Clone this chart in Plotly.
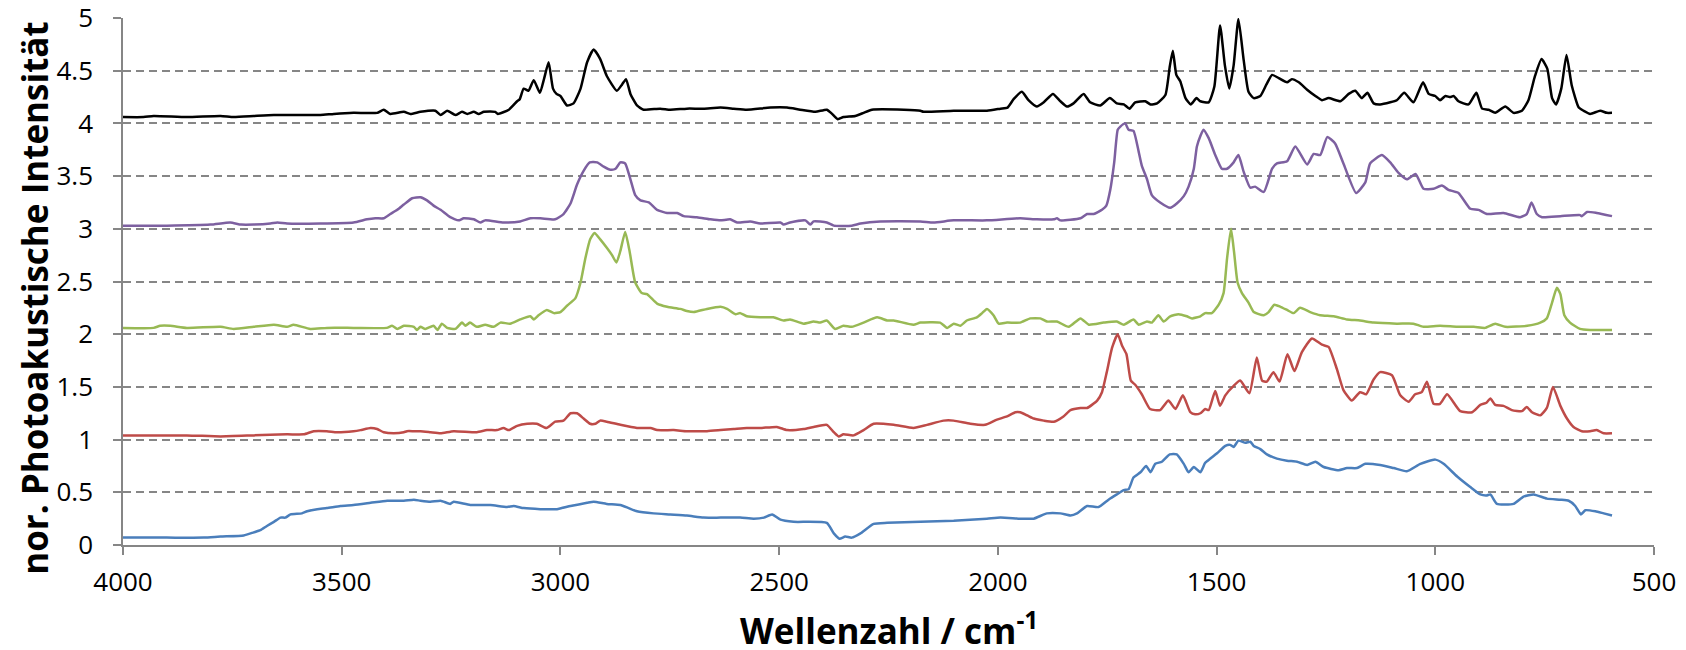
import plotly.graph_objects as go

# ---- data (wavenumber in cm^-1, normalized photoacoustic intensity with offsets) ----
wn_black = [4000,3953,3930,3854,3777,3747,3701,3655,3610,3549,3518,3473,3419,3404,3389,3358,3343,3320,3286,3274,3259,3240,3225,3213,3198,3187,3175,3149,3143,3118,3099,3093,3084,3073,3061,3047,3037,3027,3017,3009,3000,2985,2970,2954,2939,2924,2909,2894,2871,2859,2850,2840,2825,2810,2772,2749,2711,2673,2634,2604,2574,2520,2482,2452,2417,2391,2379,2366,2353,2326,2307,2288,2215,2177,2170,2101,2025,1994,1978,1964,1945,1930,1911,1895,1874,1857,1842,1827,1804,1789,1766,1744,1728,1712,1699,1686,1663,1651,1636,1617,1607,1600,1592,1583,1571,1559,1546,1537,1518,1505,1492,1481,1471,1461,1450,1438,1427,1415,1400,1386,1373,1358,1339,1328,1312,1293,1274,1259,1244,1217,1198,1183,1168,1155,1141,1126,1103,1088,1071,1050,1028,1015,1000,989,977,966,958,947,924,906,893,878,863,840,821,802,787,772,757,744,733,724,712,700,688,672,661,646,623,608,596]
int_black = [4.06,4.06,4.07,4.06,4.07,4.06,4.07,4.08,4.08,4.08,4.09,4.10,4.10,4.13,4.09,4.11,4.09,4.11,4.12,4.08,4.12,4.08,4.11,4.09,4.11,4.09,4.11,4.11,4.09,4.13,4.21,4.23,4.33,4.31,4.41,4.29,4.43,4.58,4.33,4.28,4.26,4.17,4.19,4.33,4.58,4.70,4.61,4.45,4.31,4.37,4.42,4.28,4.17,4.13,4.14,4.13,4.14,4.14,4.15,4.14,4.13,4.15,4.15,4.13,4.11,4.13,4.09,4.04,4.06,4.07,4.10,4.13,4.13,4.12,4.11,4.12,4.12,4.14,4.15,4.23,4.30,4.22,4.16,4.20,4.28,4.21,4.16,4.19,4.28,4.20,4.17,4.24,4.19,4.18,4.14,4.20,4.21,4.18,4.19,4.27,4.54,4.69,4.46,4.40,4.24,4.18,4.24,4.21,4.20,4.35,4.93,4.55,4.33,4.55,4.99,4.60,4.30,4.24,4.26,4.37,4.46,4.43,4.39,4.42,4.39,4.32,4.26,4.22,4.24,4.21,4.28,4.31,4.24,4.29,4.19,4.18,4.20,4.22,4.29,4.20,4.39,4.28,4.26,4.22,4.26,4.25,4.26,4.21,4.18,4.29,4.14,4.13,4.10,4.16,4.10,4.12,4.22,4.45,4.61,4.52,4.24,4.18,4.33,4.65,4.36,4.15,4.12,4.09,4.12,4.10,4.10]

wn_purple = [4000,3900,3800,3755,3730,3701,3663,3647,3625,3549,3473,3442,3423,3404,3389,3373,3358,3339,3320,3305,3290,3274,3252,3233,3221,3198,3183,3172,3130,3092,3069,3046,3012,2993,2977,2962,2947,2933,2916,2901,2886,2874,2863,2852,2840,2829,2817,2798,2779,2756,2733,2718,2688,2657,2634,2612,2596,2566,2543,2497,2490,2475,2440,2429,2421,2391,2375,2334,2314,2269,2177,2147,2101,2025,1949,1911,1872,1865,1857,1811,1796,1781,1762,1752,1743,1734,1726,1720,1709,1701,1690,1678,1671,1659,1648,1629,1606,1591,1575,1564,1552,1545,1537,1530,1518,1503,1488,1476,1461,1450,1438,1423,1412,1392,1373,1362,1339,1320,1293,1278,1263,1247,1229,1210,1181,1160,1149,1122,1103,1084,1065,1045,1027,1004,985,970,947,920,901,882,844,806,791,780,768,756,714,669,665,653,631,596]
int_purple = [3.03,3.03,3.04,3.06,3.04,3.04,3.05,3.06,3.05,3.05,3.06,3.09,3.10,3.10,3.14,3.18,3.23,3.29,3.30,3.27,3.22,3.18,3.11,3.08,3.10,3.09,3.06,3.08,3.06,3.07,3.10,3.10,3.09,3.14,3.24,3.42,3.55,3.63,3.63,3.59,3.56,3.57,3.63,3.62,3.47,3.32,3.27,3.25,3.18,3.15,3.15,3.12,3.11,3.09,3.08,3.09,3.06,3.07,3.05,3.06,3.04,3.06,3.08,3.04,3.07,3.06,3.03,3.03,3.05,3.07,3.07,3.06,3.08,3.08,3.10,3.09,3.09,3.10,3.08,3.10,3.14,3.14,3.18,3.22,3.37,3.63,3.94,3.97,4.00,3.94,3.93,3.73,3.60,3.47,3.32,3.25,3.20,3.24,3.31,3.40,3.57,3.78,3.88,3.94,3.86,3.70,3.57,3.57,3.63,3.70,3.54,3.39,3.40,3.35,3.57,3.62,3.64,3.78,3.61,3.71,3.70,3.87,3.81,3.62,3.34,3.44,3.62,3.70,3.63,3.53,3.47,3.52,3.38,3.38,3.41,3.37,3.34,3.19,3.18,3.14,3.15,3.11,3.14,3.25,3.14,3.11,3.12,3.13,3.12,3.16,3.15,3.12]

wn_green = [4000,3930,3915,3892,3854,3777,3747,3701,3655,3625,3610,3572,3534,3473,3397,3385,3373,3358,3335,3328,3320,3309,3290,3281,3271,3259,3240,3225,3217,3207,3191,3172,3153,3137,3115,3092,3069,3061,3050,3031,3015,3000,2985,2966,2954,2943,2932,2922,2909,2894,2882,2872,2863,2852,2842,2829,2814,2802,2779,2756,2726,2711,2695,2665,2634,2619,2600,2589,2574,2543,2513,2490,2475,2444,2421,2406,2391,2372,2353,2334,2307,2276,2253,2238,2193,2177,2132,2116,2101,2086,2071,2048,2036,2025,2010,1998,1979,1949,1926,1903,1888,1865,1838,1811,1792,1758,1728,1712,1690,1678,1659,1648,1633,1621,1606,1587,1568,1556,1537,1526,1511,1495,1484,1476,1467,1460,1452,1442,1427,1415,1392,1381,1368,1354,1339,1324,1309,1286,1263,1232,1202,1172,1141,1088,1050,1027,989,950,912,886,863,840,790,760,745,733,722,714,705,692,669,646,627,596]
int_green = [2.06,2.06,2.08,2.08,2.06,2.07,2.05,2.07,2.09,2.07,2.09,2.05,2.06,2.06,2.06,2.08,2.05,2.08,2.07,2.04,2.07,2.05,2.08,2.04,2.10,2.06,2.05,2.11,2.08,2.11,2.07,2.09,2.07,2.11,2.10,2.14,2.17,2.14,2.18,2.23,2.20,2.21,2.27,2.34,2.49,2.72,2.90,2.96,2.90,2.82,2.75,2.68,2.79,2.97,2.79,2.49,2.39,2.38,2.29,2.26,2.24,2.22,2.21,2.24,2.26,2.24,2.19,2.20,2.17,2.16,2.16,2.13,2.14,2.10,2.12,2.11,2.13,2.05,2.08,2.07,2.11,2.16,2.13,2.13,2.09,2.11,2.11,2.06,2.10,2.08,2.13,2.16,2.20,2.24,2.18,2.10,2.11,2.11,2.15,2.15,2.12,2.12,2.07,2.15,2.09,2.11,2.12,2.09,2.14,2.09,2.12,2.11,2.18,2.12,2.17,2.19,2.17,2.15,2.17,2.20,2.20,2.28,2.39,2.72,3.00,2.78,2.49,2.39,2.30,2.21,2.18,2.21,2.28,2.26,2.23,2.20,2.25,2.21,2.18,2.17,2.14,2.13,2.11,2.10,2.10,2.07,2.08,2.07,2.07,2.06,2.10,2.07,2.08,2.11,2.15,2.30,2.44,2.38,2.18,2.11,2.05,2.04,2.04,2.04]

wn_red = [4000,3854,3777,3701,3625,3587,3564,3534,3511,3473,3457,3434,3419,3404,3381,3358,3351,3335,3320,3297,3274,3244,3191,3168,3145,3130,3118,3099,3076,3054,3032,3012,2993,2977,2962,2947,2932,2920,2909,2894,2863,2825,2794,2779,2741,2711,2665,2634,2604,2574,2543,2505,2482,2444,2421,2391,2375,2364,2353,2330,2307,2284,2238,2193,2162,2124,2101,2063,2029,2002,1979,1960,1949,1933,1918,1895,1872,1850,1834,1811,1796,1773,1762,1751,1739,1726,1716,1706,1696,1686,1671,1652,1629,1610,1594,1577,1560,1549,1537,1526,1518,1503,1492,1480,1461,1446,1425,1408,1396,1385,1370,1356,1338,1322,1305,1282,1259,1244,1225,1210,1191,1172,1158,1141,1126,1099,1080,1061,1046,1031,1019,1004,989,973,943,916,897,883,874,863,844,825,802,791,779,760,745,731,714,699,684,665,646,631,615,596]
int_red = [1.04,1.04,1.03,1.04,1.05,1.05,1.08,1.08,1.07,1.08,1.09,1.11,1.10,1.07,1.06,1.07,1.08,1.08,1.08,1.07,1.06,1.08,1.07,1.09,1.09,1.11,1.09,1.13,1.15,1.15,1.11,1.17,1.18,1.25,1.25,1.20,1.15,1.15,1.18,1.17,1.14,1.11,1.11,1.09,1.09,1.08,1.08,1.09,1.10,1.11,1.11,1.12,1.09,1.10,1.12,1.14,1.07,1.03,1.05,1.04,1.09,1.15,1.14,1.11,1.14,1.18,1.18,1.15,1.14,1.19,1.22,1.26,1.26,1.23,1.20,1.18,1.17,1.22,1.28,1.30,1.30,1.37,1.45,1.64,1.87,2.00,1.89,1.81,1.56,1.52,1.43,1.29,1.28,1.37,1.29,1.42,1.26,1.24,1.25,1.29,1.28,1.46,1.32,1.42,1.51,1.56,1.44,1.78,1.56,1.55,1.64,1.55,1.81,1.65,1.83,1.96,1.90,1.88,1.67,1.47,1.37,1.45,1.43,1.57,1.64,1.61,1.42,1.36,1.43,1.45,1.55,1.34,1.34,1.43,1.27,1.26,1.33,1.35,1.39,1.33,1.32,1.28,1.27,1.31,1.26,1.23,1.30,1.50,1.32,1.20,1.12,1.08,1.08,1.09,1.06,1.06]

wn_blue = [4000,3900,3815,3777,3724,3701,3686,3671,3655,3640,3629,3617,3591,3579,3556,3534,3503,3473,3434,3396,3358,3335,3320,3297,3274,3252,3244,3206,3160,3122,3107,3084,3046,3008,2977,2939,2924,2894,2863,2844,2825,2787,2749,2711,2673,2634,2589,2558,2535,2516,2497,2467,2391,2375,2362,2349,2334,2314,2284,2253,2177,2101,2025,1994,1949,1918,1888,1857,1834,1819,1796,1770,1747,1728,1712,1701,1690,1674,1661,1651,1640,1625,1607,1591,1575,1564,1552,1537,1526,1514,1499,1480,1469,1461,1450,1434,1423,1415,1400,1385,1362,1339,1316,1293,1274,1255,1221,1202,1179,1160,1126,1095,1065,1034,1000,981,950,920,897,883,874,859,821,798,775,745,714,695,680,667,657,634,615,596]
int_blue = [0.07,0.07,0.07,0.08,0.09,0.12,0.14,0.18,0.22,0.26,0.26,0.29,0.30,0.32,0.34,0.35,0.37,0.38,0.40,0.42,0.42,0.43,0.42,0.41,0.42,0.39,0.41,0.38,0.38,0.36,0.37,0.35,0.34,0.34,0.37,0.40,0.41,0.39,0.38,0.35,0.32,0.30,0.29,0.28,0.26,0.26,0.26,0.25,0.26,0.29,0.24,0.22,0.21,0.11,0.06,0.08,0.07,0.11,0.20,0.21,0.22,0.23,0.25,0.26,0.25,0.25,0.30,0.30,0.28,0.30,0.37,0.36,0.43,0.48,0.52,0.53,0.64,0.69,0.75,0.69,0.77,0.79,0.86,0.86,0.77,0.69,0.74,0.69,0.78,0.82,0.87,0.94,0.95,0.93,0.99,0.97,0.98,0.94,0.91,0.86,0.82,0.80,0.79,0.76,0.79,0.74,0.71,0.73,0.73,0.77,0.76,0.73,0.70,0.77,0.81,0.77,0.65,0.55,0.48,0.47,0.48,0.39,0.39,0.46,0.48,0.44,0.43,0.42,0.37,0.29,0.33,0.32,0.30,0.28]

x_ticks = [4000, 3500, 3000, 2500, 2000, 1500, 1000, 500]
y_ticks = [0, 0.5, 1, 1.5, 2, 2.5, 3, 3.5, 4, 4.5, 5]
x_title = "Wellenzahl / cm<sup>-1</sup>"
y_title = "nor. Photoakustische Intensität"

series = [
    (wn_blue, int_blue, "#4A7EBB"),
    (wn_red, int_red, "#BE4B48"),
    (wn_green, int_green, "#98B954"),
    (wn_purple, int_purple, "#7D60A0"),
    (wn_black, int_black, "#000000"),
]

fig = go.Figure()
for xs, ys, col in series:
    fig.add_trace(go.Scatter(x=xs, y=ys, mode="lines",
                             line=dict(color=col, width=2.5, shape="spline", smoothing=0.5),
                             showlegend=False))

FONT = "Open Sans"
GRID = "#868686"
# page body has an 8px default margin; the figure is sized/margined to compensate
fig.update_layout(
    width=1678, height=642,
    margin=dict(l=115, r=32, t=10, b=105, autoexpand=False),
    paper_bgcolor="white", plot_bgcolor="white",
    showlegend=False,
    font=dict(family=FONT, color="#000000"),
)
fig.update_xaxes(
    range=[4000, 500], tickvals=x_ticks, ticktext=[str(v) for v in x_ticks],
    showgrid=False, zeroline=False, automargin=False,
    showline=True, linecolor=GRID, linewidth=1.5,
    ticks="outside", ticklen=8, tickwidth=1.5, tickcolor=GRID,
    tickfont=dict(family=FONT, size=26, color="#000000"),
    ticklabelstandoff=5, ticklabeloverflow="allow",
)
fig.update_yaxes(
    range=[0, 5], tickvals=y_ticks, ticktext=[f"{v:g}" for v in y_ticks],
    showgrid=True, gridcolor=GRID, gridwidth=1.5, griddash="8px,5px",
    zeroline=False, automargin=False,
    showline=True, linecolor=GRID, linewidth=1.5,
    ticks="outside", ticklen=8, tickwidth=1.5, tickcolor=GRID,
    tickfont=dict(family=FONT, size=26, color="#000000"),
    ticklabelstandoff=15, ticklabeloverflow="allow",
)
fig.add_annotation(text=x_title, xref="paper", yref="paper", x=0.5, y=-0.158,
                   xanchor="center", yanchor="middle", showarrow=False,
                   font=dict(family=FONT, size=35, color="#000000", weight="bold"))
fig.add_annotation(text=y_title, xref="paper", yref="paper", x=-0.0575, y=0.469,
                   xanchor="center", yanchor="middle", textangle=-90, showarrow=False,
                   font=dict(family=FONT, size=35, color="#000000", weight="bold"))

fig.write_html("out.html")
